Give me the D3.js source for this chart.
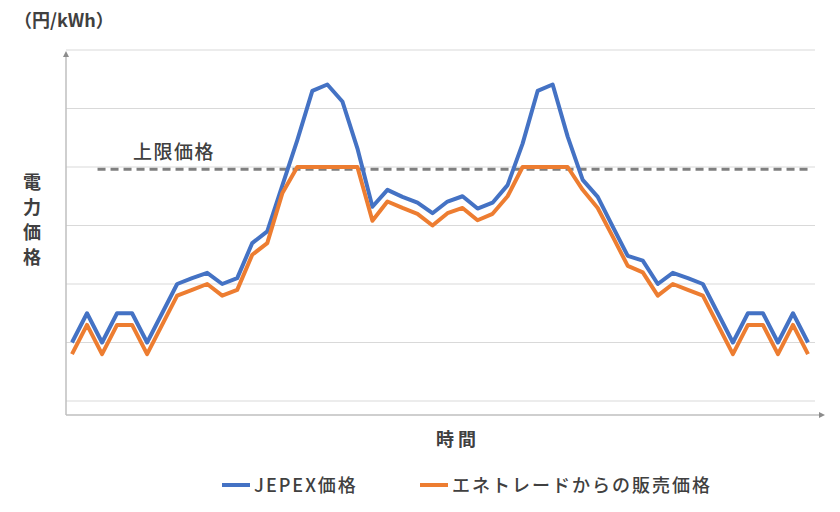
<!DOCTYPE html>
<html>
<head>
<meta charset="utf-8">
<script src="https://cdn.jsdelivr.net/npm/d3@7"></script>
<style>
body{margin:0;background:#fff;}
text{font-family:"Noto Sans CJK JP","Noto Sans",sans-serif;fill:#404040;}
</style>
</head>
<body>
<svg id="chart" width="840" height="512"></svg>
<script>
// half-hour slots, prices in gridline units
var jepex = [1.0,1.5,1.0,1.5,1.5,1.0,1.5,2.0,2.1,2.19,2.0,2.1,2.7,2.9,3.68,4.46,5.3,5.41,5.12,4.32,
             3.32,3.61,3.49,3.39,3.21,3.41,3.5,3.29,3.39,3.69,4.4,5.3,5.41,4.52,3.78,3.49,2.98,2.48,2.4,2.0,
             2.19,2.1,2.0,1.5,1.0,1.5,1.5,1.0,1.5,1.0]
var sales = [0.8,1.3,0.8,1.3,1.3,0.8,1.3,1.8,1.9,2.0,1.8,1.9,2.5,2.7,3.55,4.0,4.0,4.0,4.0,4.0,
             3.08,3.41,3.3,3.2,3.0,3.21,3.3,3.09,3.2,3.5,4.0,4.0,4.0,4.0,3.61,3.3,2.81,2.31,2.2,1.8,
             2.0,1.9,1.8,1.3,0.8,1.3,1.3,0.8,1.3,0.8]
var capValue = 3.96
var capRange = [1.7, 49]
var gridValues = [0,1,2,3,4,5,6]
var seriesNames = ["JEPEX価格","エネトレードからの販売価格"]
var colors = ["#4472C4","#ED7D31"]

var svg = d3.select("#chart")
var x = d3.scaleLinear().domain([0,49]).range([72,808])
var y = d3.scaleLinear().domain([0,6]).range([401,50])

// gridlines
svg.selectAll("line.grid").data(gridValues).enter().append("line")
    .attr("x1",66).attr("x2",815)
    .attr("y1",function(d){return y(d)}).attr("y2",function(d){return y(d)})
    .attr("stroke","#d9d9d9").attr("stroke-width",1)

// axes with arrows
var defs = svg.append("defs")
defs.append("marker").attr("id","arr").attr("viewBox","0 0 10 10")
    .attr("refX",5).attr("refY",5).attr("markerWidth",4).attr("markerHeight",4)
    .attr("orient","auto")
    .append("path").attr("d","M0,0L10,5L0,10z").attr("fill","#8c8c8c")
svg.append("line").attr("x1",66).attr("y1",415).attr("x2",66).attr("y2",54)
    .attr("stroke","#bfbfbf").attr("stroke-width",1.5).attr("marker-end","url(#arr)")
svg.append("line").attr("x1",66).attr("y1",415).attr("x2",822).attr("y2",415)
    .attr("stroke","#bfbfbf").attr("stroke-width",1.5).attr("marker-end","url(#arr)")

// cap line
svg.append("line").attr("x1",x(capRange[0])).attr("x2",x(capRange[1]))
    .attr("y1",y(capValue)).attr("y2",y(capValue))
    .attr("stroke","#7f7f7f").attr("stroke-width",3).attr("stroke-dasharray","8,5")
svg.append("text").attr("x",133).attr("y",159).attr("font-size",19)
    .attr("font-weight",500).attr("letter-spacing",1.5).text("上限価格")

var line = d3.line().x(function(d,i){return x(i)}).y(function(d){return y(d)})
;[jepex,sales].forEach(function(s,k){
    svg.append("path").datum(s).attr("d",line)
        .attr("fill","none").attr("stroke",colors[k]).attr("stroke-width",4)
        .attr("stroke-linejoin","round")
})

// titles
svg.append("text").attr("x",14).attr("y",27).attr("font-size",18).attr("font-weight","bold").text("（円/kWh）")
"電力価格".split("").forEach(function(c,i){
    svg.append("text").attr("x",32).attr("y",189+i*25).attr("text-anchor","middle")
        .attr("font-size",18).attr("font-weight","bold").text(c)
})
svg.append("text").attr("x",456).attr("y",446).attr("text-anchor","middle")
    .attr("font-size",18).attr("font-weight","bold").text("時 間")

// legend
var legX = [222,420]
seriesNames.forEach(function(n,k){
    svg.append("line").attr("x1",legX[k]).attr("x2",legX[k]+28).attr("y1",485).attr("y2",485)
        .attr("stroke",colors[k]).attr("stroke-width",4)
    svg.append("text").attr("x",legX[k]+32).attr("y",492).attr("font-size",18)
        .attr("font-weight",500).attr("letter-spacing",2).text(n)
})
</script>
</body>
</html>
